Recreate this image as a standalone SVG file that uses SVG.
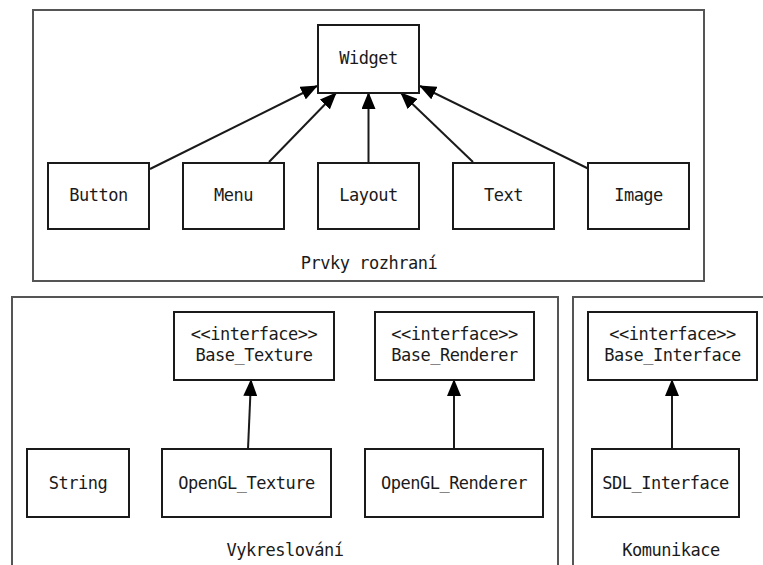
<svg xmlns="http://www.w3.org/2000/svg" width="763" height="565" viewBox="0 0 763 565">
<style>
.frame{fill:none;stroke:#555;stroke-width:2}
.box{fill:#fff;stroke:#1a1a1a;stroke-width:2}
.edge{fill:none;stroke:#1a1a1a;stroke-width:2;marker-end:url(#tri)}
text{font-family:"DejaVu Sans Mono","Liberation Mono",monospace;font-size:17px;letter-spacing:-0.5px;fill:#1a1a1a;text-anchor:middle}
</style>
<defs>
<marker id="tri" viewBox="0 0 17 14" refX="16" refY="7" markerWidth="17" markerHeight="14" orient="auto" markerUnits="userSpaceOnUse">
<path d="M0,0 L17,7 L0,14 z" fill="#000"/>
</marker>
</defs>
<rect width="763" height="565" fill="#fff"/>
<g id="frame-prvky">
<rect class="frame" x="33" y="10" width="671" height="271"/>
<text x="369" y="269">Prvky rozhraní</text>
</g>
<g id="frame-vykreslovani">
<rect class="frame" x="12" y="297" width="546" height="290"/>
<text x="285" y="556">Vykreslování</text>
</g>
<g id="frame-komunikace">
<rect class="frame" x="573" y="297" width="220" height="290"/>
<text x="671" y="556">Komunikace</text>
</g>
<g id="connectors">
<path class="edge" d="M150,169 L317,86"/>
<path class="edge" d="M269,162 L336,93"/>
<path class="edge" d="M368.5,162 L368.5,93"/>
<path class="edge" d="M473,162 L401,93"/>
<path class="edge" d="M589,169 L420,86"/>
<path class="edge" d="M248,449 L251,380"/>
<path class="edge" d="M454,449 L454,380"/>
<path class="edge" d="M672,449 L672,380"/>
</g>
<g id="widget"><rect class="box" x="318" y="25" width="101" height="68"/><text x="368.5" y="64">Widget</text></g>
<g id="button"><rect class="box" x="48" y="163" width="101" height="66"/><text x="98.5" y="201">Button</text></g>
<g id="menu"><rect class="box" x="183" y="163" width="101" height="66"/><text x="233.5" y="201">Menu</text></g>
<g id="layout"><rect class="box" x="318" y="163" width="101" height="66"/><text x="368.5" y="201">Layout</text></g>
<g id="text"><rect class="box" x="453" y="163" width="101" height="66"/><text x="503.5" y="201">Text</text></g>
<g id="image"><rect class="box" x="588" y="163" width="101" height="66"/><text x="638.5" y="201">Image</text></g>
<g id="base-texture"><rect class="box" x="174" y="312" width="160" height="68"/><text x="254" y="340">&lt;&lt;interface&gt;&gt;</text><text x="254" y="361">Base_Texture</text></g>
<g id="base-renderer"><rect class="box" x="375" y="312" width="159" height="68"/><text x="454.5" y="340">&lt;&lt;interface&gt;&gt;</text><text x="454.5" y="361">Base_Renderer</text></g>
<g id="base-interface"><rect class="box" x="588" y="312" width="169" height="68"/><text x="672.5" y="340">&lt;&lt;interface&gt;&gt;</text><text x="672.5" y="361">Base_Interface</text></g>
<g id="string"><rect class="box" x="27" y="449" width="102" height="68"/><text x="78" y="489">String</text></g>
<g id="opengl-texture"><rect class="box" x="162" y="449" width="169" height="68"/><text x="246.5" y="489">OpenGL_Texture</text></g>
<g id="opengl-renderer"><rect class="box" x="365" y="449" width="178" height="68"/><text x="454" y="489">OpenGL_Renderer</text></g>
<g id="sdl-interface"><rect class="box" x="592" y="449" width="147" height="68"/><text x="665.5" y="489">SDL_Interface</text></g>
</svg>
